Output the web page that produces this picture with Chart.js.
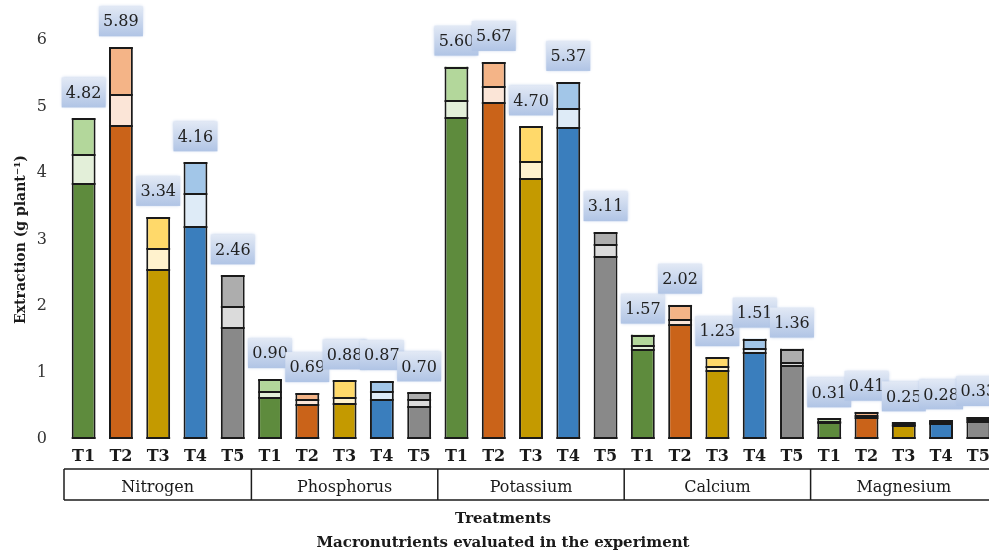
<!DOCTYPE html>
<html>
<head>
<meta charset="utf-8">
<style>
  html, body { margin: 0; padding: 0; background: #ffffff; overflow: hidden; width: 989px; height: 554px; }
  #wrap { width: 998px; height: 554px; }
</style>
<script src="https://cdn.jsdelivr.net/npm/chart.js@4/dist/chart.umd.min.js"></script>
</head>
<body>
<div id="wrap"><canvas id="chart" width="998" height="554"></canvas></div>
<script>
// Macronutrient groups and treatments within each group
const nutrients = ['Nitrogen', 'Phosphorus', 'Potassium', 'Calcium', 'Magnesium'];
const treatments = ['T1', 'T2', 'T3', 'T4', 'T5'];
const axisTitleLines = ['Treatments', 'Macronutrients evaluated in the experiment'];

// Stacked extraction (g plant-1), ordered N T1..T5, P T1..T5, K, Ca, Mg
const lowerPart = [
  3.83, 4.71, 2.54, 3.19, 1.67,
  0.61, 0.51, 0.53, 0.58, 0.48,
  4.83, 5.06, 3.91, 4.67, 2.73,
  1.34, 1.72, 1.03, 1.30, 1.10,
  0.24, 0.32, 0.19, 0.22, 0.26
];
const middlePart = [
  0.44, 0.46, 0.31, 0.50, 0.31,
  0.10, 0.08, 0.08, 0.12, 0.10,
  0.26, 0.23, 0.25, 0.29, 0.18,
  0.06, 0.07, 0.06, 0.06, 0.05,
  0.02, 0.03, 0.02, 0.02, 0.02
];
const upperPart = [
  0.55, 0.72, 0.49, 0.47, 0.48,
  0.19, 0.10, 0.27, 0.17, 0.12,
  0.51, 0.38, 0.54, 0.41, 0.20,
  0.17, 0.23, 0.14, 0.15, 0.21,
  0.05, 0.06, 0.04, 0.04, 0.05
];

// Treatment colours: dark base, pale middle, light top
const darkColors  = ['#5e8b3d', '#ca6319', '#c49a00', '#3a7ebd', '#898989'];
const paleColors  = ['#e3efd9', '#fbe5d7', '#fff2cd', '#deebf7', '#dbdbdb'];
const lightColors = ['#b3d79b', '#f4b487', '#ffd96a', '#a2c6e8', '#adadad'];

const serif = "'DejaVu Serif', 'Liberation Serif', serif";
const edgeColor = '#1a1a1a';
const labels = nutrients.flatMap(() => treatments);
const perBar = (palette) => labels.map((_, i) => palette[i % treatments.length]);

// Side edges come from the bar elements; horizontal rules are added below
function makeSet(data, palette) {
  return {
    data: data,
    backgroundColor: perBar(palette),
    borderColor: edgeColor,
    borderWidth: { left: 2, right: 2, top: 0, bottom: 0 },
    borderSkipped: false,
    inflateAmount: 0,
    categoryPercentage: 1,
    barPercentage: 0.64
  };
}

// 2px rules at the base, between segments and on top of every stack
const segmentRules = {
  id: 'segmentRules',
  afterDatasetsDraw(chart) {
    const ctx = chart.ctx;
    ctx.save();
    ctx.fillStyle = edgeColor;
    chart.data.datasets.forEach((_, d) => {
      chart.getDatasetMeta(d).data.forEach((bar) => {
        const left = bar.x - bar.width / 2;
        const yTop = Math.round(bar.y);
        ctx.fillRect(left, d === 2 ? yTop : yTop - 1, bar.width, 2);
        if (d === 0) ctx.fillRect(left, Math.round(bar.base) - 2, bar.width, 2);
      });
    });
    ctx.restore();
  }
};

// Total above each stack, on a soft blue plate
const totalLabels = {
  id: 'totalLabels',
  afterDatasetsDraw(chart) {
    const { ctx, scales: { x, y } } = chart;
    ctx.save();
    labels.forEach((_, i) => {
      const total = lowerPart[i] + middlePart[i] + upperPart[i];
      const cx = x.getPixelForValue(i);
      const cy = y.getPixelForValue(total) - 26;
      const w = 44, h = 30;
      const g = ctx.createLinearGradient(0, cy - h / 2, 0, cy + h / 2);
      g.addColorStop(0, '#e2e9f5');
      g.addColorStop(1, '#b0c4e5');
      ctx.shadowColor = 'rgba(176,196,229,0.9)';
      ctx.shadowBlur = 3;
      ctx.fillStyle = g;
      ctx.fillRect(cx - w / 2, cy - h / 2, w, h);
      ctx.shadowBlur = 0;
      ctx.fillStyle = '#222222';
      ctx.font = '16px ' + serif;
      ctx.textAlign = 'center';
      ctx.textBaseline = 'middle';
      ctx.fillText(total.toFixed(2), cx, cy + 1);
    });
    ctx.restore();
  }
};

// Boxed row of macronutrient names and the two-line axis caption
const groupRow = {
  id: 'groupRow',
  afterDraw(chart) {
    const { ctx, scales: { x } } = chart;
    const step = x.getPixelForValue(1) - x.getPixelForValue(0);
    const top = 469, bottom = 500;
    ctx.save();
    ctx.strokeStyle = '#1c1c1c';
    ctx.lineWidth = 1.5;
    const left = x.getPixelForValue(0) - step / 2 - 1;
    const right = x.getPixelForValue(labels.length - 1) + step / 2;
    ctx.beginPath();
    ctx.moveTo(left, top); ctx.lineTo(right, top);
    ctx.moveTo(left, bottom); ctx.lineTo(right, bottom);
    ctx.stroke();
    ctx.font = '16px ' + serif;
    ctx.fillStyle = '#1a1a1a';
    ctx.textAlign = 'center';
    ctx.textBaseline = 'middle';
    nutrients.forEach((name, k) => {
      const a = x.getPixelForValue(k * treatments.length) - step / 2 - (k === 0 ? 1 : 0);
      const b = x.getPixelForValue((k + 1) * treatments.length - 1) + step / 2;
      ctx.beginPath();
      ctx.moveTo(a, top); ctx.lineTo(a, bottom);
      ctx.stroke();
      ctx.fillText(name, (a + b) / 2, 488);
    });
    ctx.font = 'bold 15px ' + serif;
    axisTitleLines.forEach((line, j) => ctx.fillText(line, 503, 519 + j * 24));
    ctx.restore();
  }
};

new Chart(document.getElementById('chart'), {
  type: 'bar',
  data: {
    labels: labels,
    datasets: [
      makeSet(lowerPart, darkColors),
      makeSet(middlePart, paleColors),
      makeSet(upperPart, lightColors)
    ]
  },
  options: {
    responsive: false,
    animation: false,
    layout: { padding: { top: 40, right: 1, left: 0, bottom: 0 } },
    plugins: { legend: { display: false }, tooltip: { enabled: false } },
    scales: {
      x: {
        stacked: true,
        grid: { display: false, drawTicks: false },
        border: { display: false },
        ticks: {
          autoSkip: false, maxRotation: 0, padding: 8,
          color: '#1a1a1a',
          font: { family: serif, size: 16, weight: 'bold' }
        },
        afterFit(scale) { scale.height = 115; }
      },
      y: {
        stacked: true,
        min: 0, max: 6,
        grid: { display: false, drawTicks: false },
        border: { display: false },
        ticks: {
          stepSize: 1, padding: 18,
          color: '#333333',
          font: { family: serif, size: 16 }
        },
        title: {
          display: true,
          text: 'Extraction (g plant\u207B\u00B9)',
          color: '#1a1a1a',
          font: { family: serif, size: 14, weight: 'bold' },
          padding: { top: 13, bottom: 0 }
        },
        afterFit(scale) { scale.width = 65; }
      }
    }
  },
  plugins: [segmentRules, totalLabels, groupRow]
});
</script>
</body>
</html>
